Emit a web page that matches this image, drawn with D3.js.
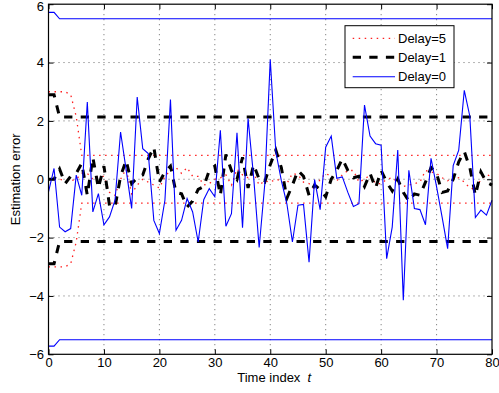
<!DOCTYPE html>
<html>
<head>
<meta charset="utf-8">
<script src="https://cdn.jsdelivr.net/npm/d3@7/dist/d3.min.js"></script>
<style>
  body { margin: 0; background: #fff; }
  text { font-family: "Liberation Sans", Arial, sans-serif; }
</style>
</head>
<body>
<svg id="chart" width="499" height="393"></svg>
<script>
// time index 0..80
const timeIdx = d3.range(0, 81);

// estimation error, Delay=0 (blue)
const delay0 = [-0.43, 0.37, -1.64, -1.8, -1.69, 0.14, -0.55, 2.65, -1.12, -0.49,
  -1.56, -1.29, -0.72, 1.62, 0.33, -1.0, 2.82, 1.05, 0.88, -1.41,
  -1.86, -0.72, 2.73, -1.75, -1.41, -0.66, -1.12, -2.15, -0.7, -0.32,
  -0.6, 1.68, -1.61, -1.18, 1.59, -1.66, 2.08, 0.08, -2.34, -0.2,
  4.1, 0.95, -0.05, -0.84, -2.15, -0.89, -0.86, -2.84, -0.01, -1.04,
  1.1, 1.48, 0.03, 0.08, -0.45, -0.93, -0.84, 2.54, 1.48, 1.22,
  1.17, -2.72, -1.64, 1.0, -4.15, 0.31, -1.0, -1.04, -1.56, 0.72,
  -0.25, -1.3, -2.38, 0.47, 1.0, 3.05, 2.16, -1.31, -1.06, -1.23, -0.72];

// Delay=1 (black dashed)
const delay1 = [0.0, 0.0, 0.35, -0.15, 0.1, 0.2, 0.55, -0.55, 0.75, -0.3,
  0.45, -0.9, -0.95, 0.1, 0.65, -0.15, 0.05, 0.15, 0.7, 1.1,
  -0.1, 0.25, 0.45, -0.45, -0.5, -0.95, -0.75, -0.35, -0.25, 0.3,
  0.45, -0.55, 0.85, 0.3, 0.0, 0.75, -0.3, 0.5, 0.0, -0.1,
  0.5, 1.0, 0.4, -0.65, -0.2, 0.3, 0.1, -0.55, -0.2, -0.35,
  -0.6, 0.0, 0.3, 0.7, 0.3, 0.05, 0.1, -0.25, 0.2, -0.3,
  0.3, -0.1, -0.4, 0.0, -0.45, -0.75, -0.5, -0.55, -0.1, 0.4,
  0.2, -0.45, -0.4, 0.0, 0.6, 0.95, 0.4, -0.55, 0.25, -0.1, -0.2];

// Delay=5 (red dotted)
const delay5 = [0.0, 0.0, 0.0, -0.05, -0.05, 0.0, 0.2, 0.2, 0.0, 0.1,
  0.1, -0.45, -0.55, 0.0, 0.35, -0.5, -0.2, 0.0, -0.1, -0.2,
  -0.3, 0.1, 0.3, 0.4, 0.2, 0.4, 0.1, 0.1, -0.2, -0.15,
  0.0, 0.05, 0.15, -0.2, 0.35, 0.15, 0.05, 0.2, -0.2, -0.05,
  -0.1, 0.0, -0.05, -0.15, 0.2, 0.15, -0.1, -0.15, -0.35, 0.0,
  0.2, 0.1, -0.05, 0.15, 0.3, 0.3, -0.1, 0.0, 0.15, -0.15,
  -0.15, 0.0, 0.05, -0.1, -0.25, -0.2, -0.15, -0.1, 0.3, 0.25,
  0.2, 0.05, -0.05, 0.1, 0.05, -0.1, -0.3, -0.35, 0.0, 0.15, 0.1];

// error bounds
const bound0T = [0, 1, 2, 80];
const bound0Up = [5.72, 5.72, 5.5, 5.5];
const bound0Lo = [-5.72, -5.72, -5.5, -5.5];
const bound1T = [0, 1, 2, 80];
const bound1Up = [2.9, 2.9, 2.13, 2.13];
const bound1Lo = [-2.9, -2.9, -2.13, -2.13];
const bound5T = [0, 1, 2, 3, 4, 5, 6, 80];
const bound5Up = [3.0, 3.0, 3.0, 3.0, 2.9, 2.15, 0.82, 0.82];
const bound5Lo = [-3.0, -3.0, -3.0, -3.0, -2.9, -2.15, -0.82, -0.82];

const xTicks = [0, 10, 20, 30, 40, 50, 60, 70, 80];
const yTicks = [-6, -4, -2, 0, 2, 4, 6];
const legendLabels = ["Delay=5", "Delay=1", "Delay=0"];

const svg = d3.select("#chart");
const box = { left: 48.5, right: 492, top: 4.2, bottom: 354.3 };
const fontSize = 13;

const x = d3.scaleLinear().domain([0, 80]).range([box.left, box.right]);
const y = d3.scaleLinear().domain([-6, 6]).range([box.bottom, box.top]);

// grid
const grid = svg.append("g")
    .attr("stroke", "#444")
    .attr("stroke-width", 0.8)
    .attr("stroke-dasharray", "1,4");
grid.selectAll("line.gx").data(xTicks.slice(1, -1)).join("line")
    .attr("class", "gx")
    .attr("x1", d => x(d)).attr("x2", d => x(d))
    .attr("y1", box.top).attr("y2", box.bottom);
grid.selectAll("line.gy").data(yTicks.slice(1, -1)).join("line")
    .attr("class", "gy")
    .attr("x1", box.left).attr("x2", box.right)
    .attr("y1", d => y(d)).attr("y2", d => y(d));

const styles = {
    d5: { stroke: "#ff2020", width: 1.3, dash: "1.5,4.5" },
    d1: { stroke: "#000", width: 3, dash: "8.3,8.3" },
    d0: { stroke: "#0000ff", width: 1.1, dash: null }
};

const line = d3.line().x(d => x(d[0])).y(d => y(d[1]));
const zip = (a, b) => a.map((v, i) => [v, b[i]]);

function draw(points, s) {
    svg.append("path")
        .datum(points)
        .attr("fill", "none")
        .attr("stroke", s.stroke)
        .attr("stroke-width", s.width)
        .attr("stroke-dasharray", s.dash)
        .attr("d", line);
}

// Delay=5
draw(zip(timeIdx, delay5), styles.d5);
draw(zip(bound5T, bound5Up), styles.d5);
draw(zip(bound5T, bound5Lo), styles.d5);
// Delay=1
draw(zip(timeIdx, delay1), styles.d1);
draw(zip(bound1T, bound1Up), styles.d1);
draw(zip(bound1T, bound1Lo), styles.d1);
// Delay=0
draw(zip(timeIdx, delay0), styles.d0);
draw(zip(bound0T, bound0Up), styles.d0);
draw(zip(bound0T, bound0Lo), styles.d0);

// axes (ticks inward)
const axB = svg.append("g").attr("transform", `translate(0,${box.bottom})`)
    .call(d3.axisBottom(x).tickValues(xTicks).tickSize(-5).tickSizeOuter(0).tickPadding(3).tickFormat(d3.format("d")));
const axL = svg.append("g").attr("transform", `translate(${box.left},0)`)
    .call(d3.axisLeft(y).tickValues(yTicks).tickSize(-5).tickSizeOuter(0).tickPadding(4.5).tickFormat(d3.format("")));
const axT = svg.append("g").attr("transform", `translate(0,${box.top})`)
    .call(d3.axisTop(x).tickValues(xTicks).tickSize(-5).tickSizeOuter(0).tickFormat(""));
const axR = svg.append("g").attr("transform", `translate(${box.right},0)`)
    .call(d3.axisRight(y).tickValues(yTicks).tickSize(-5).tickSizeOuter(0).tickFormat(""));
[axB, axL, axT, axR].forEach(a => {
    a.select(".domain").remove();
    a.selectAll("text").attr("font-size", fontSize).attr("fill", "#000")
        .attr("font-family", "'Liberation Sans', Arial, sans-serif");
    a.selectAll("line").attr("stroke", "#000");
});
// top label sits a little lower so it is not clipped
axL.selectAll(".tick").filter(d => d === 6).select("text").attr("dy", "0.5em");

svg.append("rect")
    .attr("x", box.left).attr("y", box.top)
    .attr("width", box.right - box.left).attr("height", box.bottom - box.top)
    .attr("fill", "none").attr("stroke", "#000").attr("stroke-width", 1.2);

// labels
const xl = svg.append("text")
    .attr("x", (box.left + box.right) / 2 + 4).attr("y", 382)
    .attr("text-anchor", "middle").attr("font-size", fontSize);
xl.append("tspan").text("Time index\u00a0\u00a0");
xl.append("tspan").attr("font-style", "italic").text("t");

svg.append("text")
    .attr("transform", `translate(20,${(box.top + box.bottom) / 2}) rotate(-90)`)
    .attr("text-anchor", "middle").attr("font-size", fontSize)
    .text("Estimation error");

// legend
const lg = svg.append("g").attr("transform", "translate(345,25.7)");
lg.append("rect").attr("width", 109).attr("height", 62)
    .attr("fill", "#fff").attr("stroke", "#000").attr("stroke-width", 1);
const legendStyles = [styles.d5, styles.d1, styles.d0];
const rowY = [12.6, 31.6, 51];
legendLabels.forEach((lab, i) => {
    const s = legendStyles[i];
    lg.append("line")
        .attr("x1", 7.7).attr("x2", 50).attr("y1", rowY[i]).attr("y2", rowY[i])
        .attr("stroke", s.stroke).attr("stroke-width", s.width)
        .attr("stroke-dasharray", s.dash);
    lg.append("text").attr("x", 53).attr("y", rowY[i]).attr("dy", "0.36em")
        .attr("font-size", fontSize).text(lab);
});
</script>
</body>
</html>
